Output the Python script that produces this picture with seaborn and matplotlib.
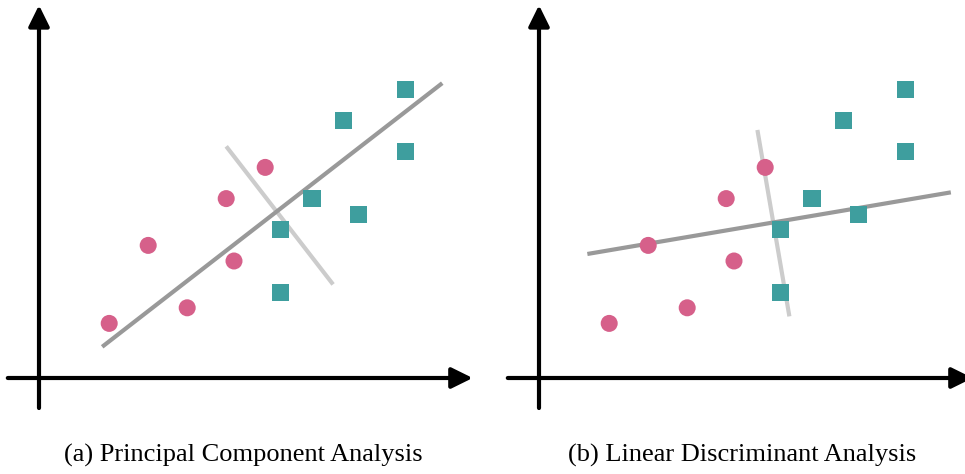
import matplotlib
matplotlib.use("Agg")
import matplotlib.pyplot as plt
import numpy as np
import pandas as pd
import seaborn as sns

# shared sample points (same in both panels)
class_a_x = [9, 14, 19, 24, 25, 29]
class_a_y = [7, 17, 9, 23, 15, 27]
class_b_x = [31, 31, 35, 39, 41, 47, 47]
class_b_y = [19, 11, 23, 33, 21, 37, 29]

# projection directions: (start, end) of the main and the perpendicular line
pca_main = ([8.1, 51.7], [4.0, 37.8])
pca_perp = ([24.0, 37.7], [29.7, 12.0])
lda_main = ([6.2, 52.8], [15.9, 23.8])
lda_perp = ([28.0, 32.1], [31.8, 7.9])

captions = ["(a) Principal Component Analysis", "(b) Linear Discriminant Analysis"]

pink = "#d6608a"
teal = "#3e9e9e"

df = pd.DataFrame({
    "x": class_a_x + class_b_x,
    "y": class_a_y + class_b_y,
    "cls": ["a"] * len(class_a_x) + ["b"] * len(class_b_x),
})

sns.set_theme(style="white")
fig = plt.figure(figsize=(9.65, 4.74), dpi=100)
W, H = 965, 474
scale = 7.8  # pixels per data unit

panels = [
    (0, 480, 39, pca_main, pca_perp),
    (500, 965, 539, lda_main, lda_perp),
]

for i, (x0, x1, ox, main, perp) in enumerate(panels):
    ax = fig.add_axes([x0 / W, (H - 420) / H, (x1 - x0) / W, 420 / H])
    ax.set_xlim(-(ox - x0) / scale, (x1 - ox) / scale)
    ax.set_ylim(-(420 - 378) / scale, 378 / scale)
    ax.set_axis_off()

    # coordinate axes with arrow heads
    arrow = dict(arrowstyle="-|>,head_length=0.85,head_width=0.42", lw=3,
                 color="black", mutation_scale=15, shrinkA=0, shrinkB=0)
    ax.annotate("", xy=(55.6, 0), xytext=(-4.0, 0), arrowprops=arrow,
                annotation_clip=False)
    ax.annotate("", xy=(0, 47.8), xytext=(0, -3.85), arrowprops=arrow,
                annotation_clip=False)

    ax.plot(perp[0], perp[1], color="#cccccc", lw=3, solid_capstyle="butt", zorder=2)
    ax.plot(main[0], main[1], color="#999999", lw=3, solid_capstyle="butt", zorder=2)

    sns.scatterplot(data=df, x="x", y="y", hue="cls", style="cls",
                    palette={"a": pink, "b": teal}, markers={"a": "o", "b": "s"},
                    s=150, edgecolor="none", legend=False, ax=ax, zorder=3)
    ax.set_xlabel("")
    ax.set_ylabel("")

    cx = [243, 742][i]
    fig.text(cx / W, 1 - 455 / H, captions[i], ha="center", va="center",
             fontsize=19, color="black",
             family=["Liberation Serif", "DejaVu Serif"])

fig.savefig("out.png", dpi=100, facecolor="white")
